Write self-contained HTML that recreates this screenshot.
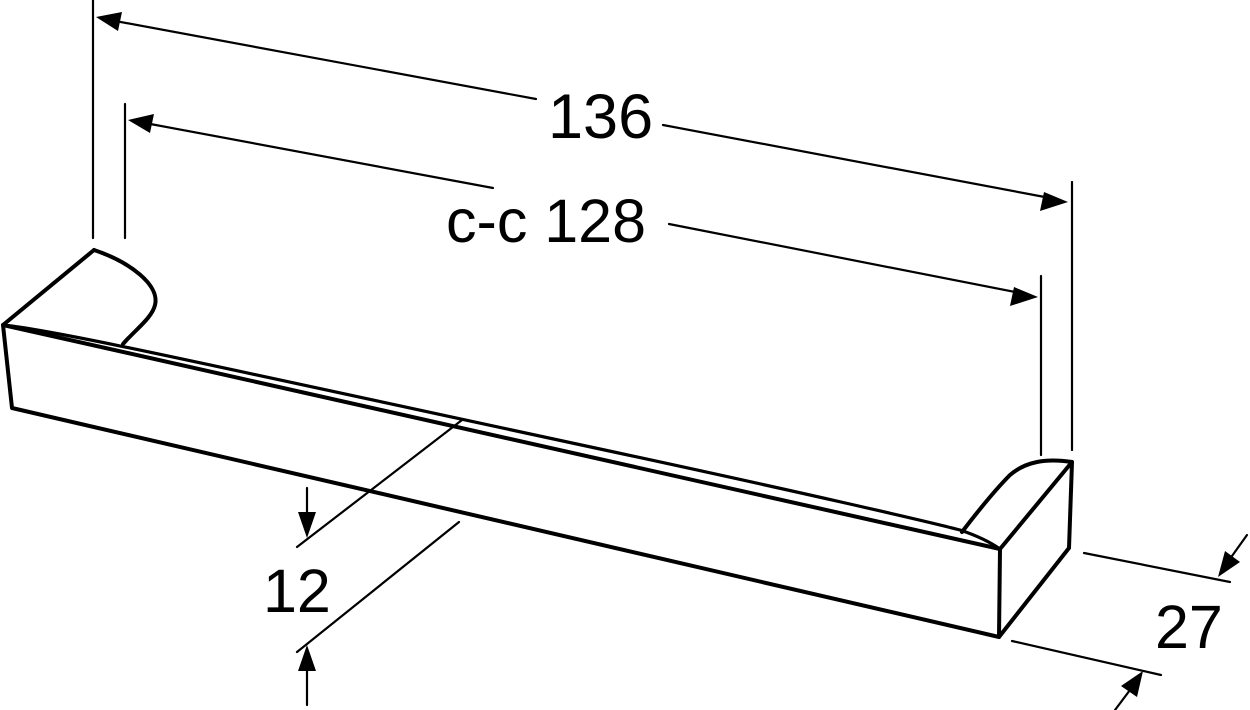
<!DOCTYPE html>
<html><head><meta charset="utf-8"><style>
html,body{margin:0;padding:0;background:#fff;}
svg{display:block}
text{font-family:"Liberation Sans",sans-serif;fill:#000}
</style></head><body>
<svg width="1250" height="710" viewBox="0 0 1250 710" xmlns="http://www.w3.org/2000/svg">
<g fill="none" stroke="#000" stroke-linejoin="round" stroke-linecap="round">
  <g stroke-width="4">
    <path d="M94,250 L3,325 L12,408 L999,637 L1000,549 L1072,462 L1069,548 L999,637"/>
    <path d="M94,250 C130,262 160,285 155,305 C152,318 135,330 123,344"/>
    <path d="M1072,462 C1045,458 1025,462 1010,475 C995,490 975,515 962,532"/>
    <path d="M3,325 L1000,549"/>
  </g>
  <path stroke-width="3.2" d="M3,325 C60,331 200,363 600,449 C800,492 930,522 960,530 C975,535 990,542 1000,549"/>
  <g stroke-width="2.2">
    <line x1="93" y1="0" x2="93" y2="238"/>
    <line x1="125" y1="104" x2="125" y2="238"/>
    <line x1="1072" y1="182" x2="1072" y2="450"/>
    <line x1="1041" y1="276" x2="1041" y2="455"/>
    <line x1="110" y1="20" x2="536" y2="99"/>
    <line x1="663" y1="125" x2="1050" y2="198"/>
    <line x1="145" y1="123" x2="493" y2="188"/>
    <line x1="669" y1="224" x2="1020" y2="293"/>
    <path d="M462,420 L297,547"/>
    <path d="M459,522 L297,652"/>
    <line x1="307" y1="488" x2="307" y2="520"/>
    <line x1="307" y1="705" x2="307" y2="665"/>
    <line x1="1084" y1="553" x2="1230" y2="582"/>
    <line x1="1012" y1="641" x2="1161" y2="675"/>
    <line x1="1247" y1="535" x2="1232" y2="556"/>
    <line x1="1115" y1="710" x2="1130" y2="690"/>
  </g>
</g>
<g fill="#000">
  <polygon points="96,17 122,12 118,31"/>
  <polygon points="1068,202 1044,192 1040,211"/>
  <polygon points="128,120 154,114 150,133"/>
  <polygon points="1038,297 1014,287 1010,306"/>
  <polygon points="307,538 298,512 316,512"/>
  <polygon points="307,645 298,671 316,671"/>
  <polygon points="1218,577 1225,551 1240,562"/>
  <polygon points="1143,671 1137,697 1121,686"/>
</g>
<text x="548" y="138" font-size="63">136</text>
<text x="446" y="242" font-size="61">c-c 128</text>
<text x="263" y="612" font-size="61">12</text>
<text x="1155" y="648" font-size="61">27</text>
</svg>
</body></html>
